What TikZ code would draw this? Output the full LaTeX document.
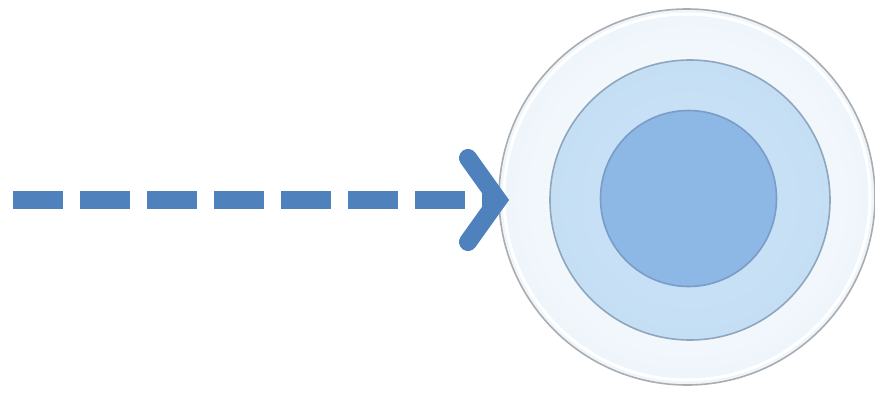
\documentclass[tikz,border=0pt]{standalone}
\usetikzlibrary{shadings}
\definecolor{arrowblue}{HTML}{4F81BD}
\definecolor{outerfill}{HTML}{EEF5FB}
\definecolor{outerrim}{HTML}{A9ADB2}
\definecolor{midfill}{HTML}{C4DEF4}
\definecolor{midrim}{HTML}{8FA6BE}
\definecolor{innerfill}{HTML}{8DB7E4}
\definecolor{innerrim}{HTML}{7A9DC8}
\tikzset{
  disc/.style={circle, inner sep=0pt, line width=1.6pt},
  dashline/.style={draw=arrowblue, line width=18pt, line cap=butt, dash pattern=on 50pt off 17pt},
  chevron/.style={draw=arrowblue, line width=18pt, line cap=round, line join=miter}
}
\begin{document}
\begin{tikzpicture}[x=1pt,y=-1pt]
\useasboundingbox (0,0) rectangle (875,394);
% outer glass disc
\node[disc, minimum size=376pt, draw=outerrim, shading=radial, inner color=white, outer color=outerfill] (outer) at (687,197) {};
\draw[white, line width=3pt] (687,197) circle (183pt);
% middle disc
\node[disc, minimum size=280pt, draw=midrim, shading=radial, inner color=midfill!80!white, outer color=midfill] (middle) at (690,200) {};
% inner disc
\node[disc, minimum size=176pt, draw=innerrim, fill=innerfill] (inner) at (688.5,198.5) {};
% arrow
\coordinate (start) at (13,200);
\coordinate (tip) at (498,200);
\draw[dashline] (start) -- (tip);
\draw[chevron] ([shift={(-30,-42)}]tip) -- (tip) -- ([shift={(-30,42)}]tip);
\end{tikzpicture}
\end{document}
